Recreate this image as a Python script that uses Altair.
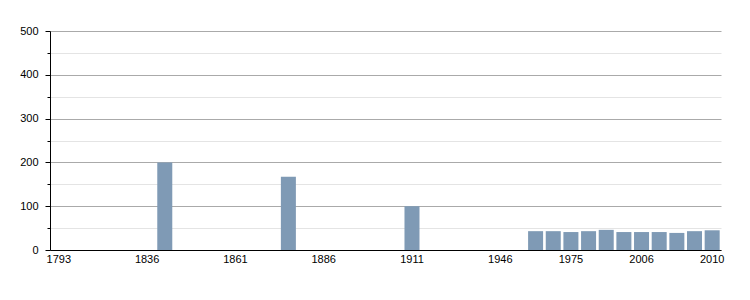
import altair as alt
import pandas as pd

years = [1793, 1800, 1806, 1821, 1831, 1836, 1841, 1846, 1851, 1856,
         1861, 1866, 1872, 1876, 1881, 1886, 1891, 1896, 1901, 1906,
         1911, 1921, 1926, 1931, 1936, 1946, 1954, 1962, 1968, 1975,
         1982, 1990, 1999, 2006, 2007, 2008, 2009, 2010]
population = [None, None, None, None, None, None, 200, None, None, None,
              None, None, None, 167, None, None, None, None, None, None,
              100, None, None, None, None, None, None, 43, 43, 41,
              43, 46, 41, 41, 41, 39, 43, 45]
label_years = ["1793", "1836", "1861", "1886", "1911", "1946", "1975", "2006", "2010"]

year_str = [str(y) for y in years]
df = pd.DataFrame({"year": year_str, "pop": population}).dropna()

font = "Liberation Sans"

chart = alt.Chart(df).mark_bar(color="#7F9AB5").encode(
    x=alt.X("year:N",
            scale=alt.Scale(domain=year_str, paddingInner=0.15, paddingOuter=0.075),
            sort=None,
            axis=alt.Axis(values=label_years, title=None, ticks=False, labelAngle=0,
                          labelPadding=3, domainColor="#000000", labelColor="#000000",
                          labelFont=font, labelFontSize=11, grid=False)),
    y=alt.Y("pop:Q",
            scale=alt.Scale(domain=[0, 500], nice=False),
            axis=alt.Axis(values=list(range(0, 501, 50)), title=None,
                          labelExpr="datum.value % 100 === 0 ? datum.label : ''",
                          gridColor={"condition": {"test": "datum.value % 100 === 0", "value": "#aaaaaa"}, "value": "#e4e4e4"},
                          tickSize={"condition": {"test": "datum.value % 100 === 0", "value": 5}, "value": 3},
                          tickColor="#000000", domainColor="#000000", labelColor="#000000",
                          labelFont=font, labelFontSize=11, labelPadding=7)),
).properties(
    width=671, height=219,
    padding={"left": 50, "top": 31, "right": 29, "bottom": 50},
    autosize=alt.AutoSizeParams(type="none"),
).configure_view(stroke=None).configure_axis(gridOpacity=1)

chart.save("out.html", embed_options={"renderer": "svg", "actions": False})
